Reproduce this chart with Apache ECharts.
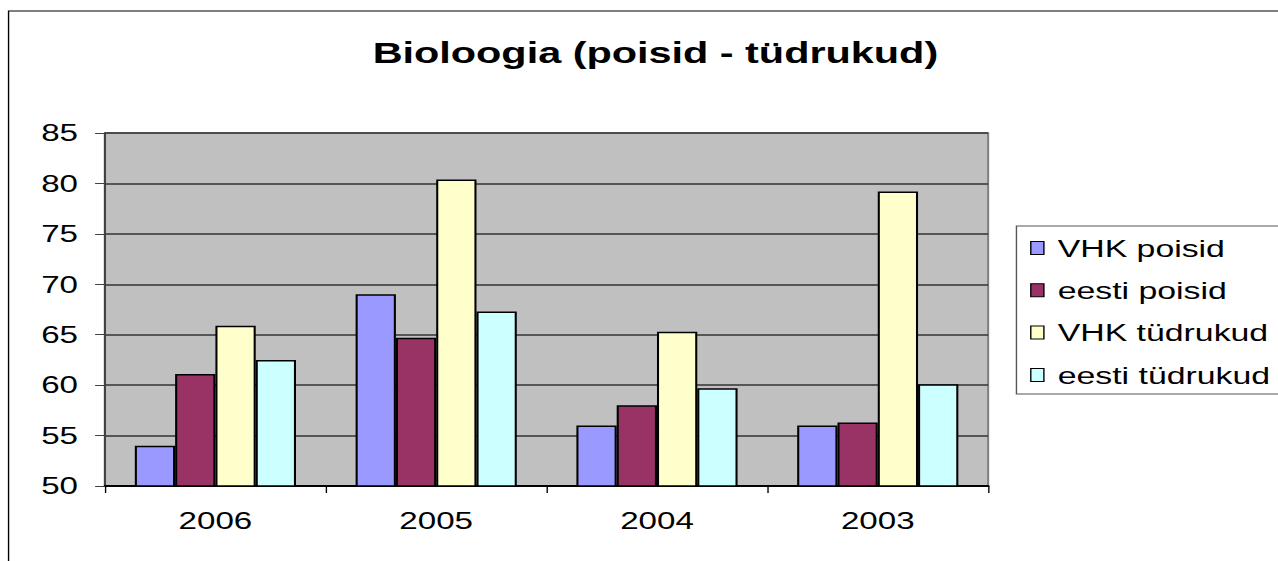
<!DOCTYPE html>
<html>
<head>
<meta charset="utf-8">
<script src="https://cdn.jsdelivr.net/npm/echarts@6/dist/echarts.min.js"></script>
<style>
html,body{margin:0;padding:0;background:#fff;overflow:hidden;width:1278px;height:561px;}
#c{width:926px;height:561px;transform:scaleX(1.3801);transform-origin:0 0;}
</style>
</head>
<body>
<div id="c"></div>
<script>
const titleText = 'Bioloogia (poisid - tüdrukud)';
const categories = ['2006', '2005', '2004', '2003'];
const seriesNames = ['VHK poisid', 'eesti poisid', 'VHK tüdrukud', 'eesti tüdrukud'];
const vhkPoisid = [54.0, 69.0, 56.0, 56.0];
const eestiPoisid = [61.1, 64.7, 58.0, 56.3];
const vhkTudrukud = [65.9, 80.4, 65.3, 79.2];
const eestiTudrukud = [62.5, 67.3, 59.7, 60.1];
const colors = ['#9999FF', '#993366', '#FFFFCC', '#CCFFFF'];
const yMin = 50, yMax = 85, yStep = 5;

const FONT = '"Liberation Sans", Arial, sans-serif';
const chart = echarts.init(document.getElementById('c'), null, {renderer: 'svg'});
const values = [vhkPoisid, eestiPoisid, vhkTudrukud, eestiTudrukud];

chart.setOption({
  animation: false,
  backgroundColor: '#fff',
  title: {
    text: titleText,
    left: 265, top: 33,
    textStyle: {fontFamily: FONT, fontSize: 30, fontWeight: 'bold', color: '#000'}
  },
  graphic: [
    {type: 'rect', shape: {x: 6.2, y: 11, width: 1000, height: 700}, style: {fill: 'none', stroke: '#000', lineWidth: 1}, silent: true, z: -1},
    {type: 'rect', shape: {x: 736.5, y: 226, width: 300, height: 168}, style: {fill: '#fff', stroke: '#555', lineWidth: 1}, silent: true, z: 0}
  ],
  legend: {
    orient: 'vertical',
    left: 746.4, top: 235.5,
    padding: 0,
    itemWidth: 9.5, itemHeight: 13,
    itemGap: 17.3,
    icon: 'rect',
    z: 5,
    itemStyle: {borderColor: '#000', borderWidth: 1},
    textStyle: {fontFamily: FONT, fontSize: 24.5, color: '#000', padding: [0, 0, 0, 5]},
    data: seriesNames
  },
  grid: {
    left: 76.1, right: 210, top: 133, bottom: 75,
    show: true, backgroundColor: '#C0C0C0', borderColor: '#808080', borderWidth: 1.5
  },
  xAxis: {
    type: 'category',
    data: categories,
    axisLine: {show: true, lineStyle: {color: '#000', width: 2}},
    axisTick: {show: true, alignWithLabel: false, length: 7, lineStyle: {color: '#000', width: 1}},
    axisLabel: {margin: 23, fontFamily: FONT, fontSize: 24, color: '#000'},
    splitLine: {show: false}
  },
  yAxis: {
    type: 'value',
    min: yMin, max: yMax, interval: yStep,
    axisLine: {show: true, lineStyle: {color: '#404040', width: 1.5}},
    axisTick: {show: true, length: 7.2, lineStyle: {color: '#404040', width: 1}},
    axisLabel: {margin: 19.6, fontFamily: FONT, fontSize: 24, color: '#000'},
    splitLine: {show: true, lineStyle: {color: '#333', width: 1.5}}
  },
  series: seriesNames.map((n, i) => ({
    name: n,
    type: 'bar',
    data: values[i],
    barGap: '0%',
    barCategoryGap: '27%',
    itemStyle: {color: colors[i], borderColor: '#000', borderWidth: 1.5}
  }))
});
</script>
</body>
</html>
